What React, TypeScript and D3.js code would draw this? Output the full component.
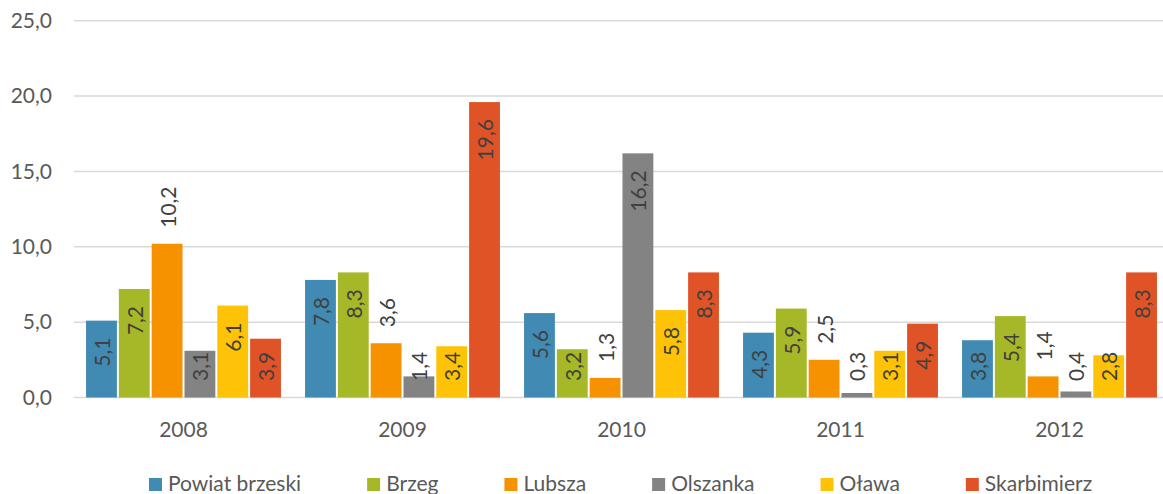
import React, { useEffect, useRef } from "react";
import { select, scaleBand, scaleLinear, range } from "d3";

const years = ["2008", "2009", "2010", "2011", "2012"];
const seriesNames = ["Powiat brzeski", "Brzeg", "Lubsza", "Olszanka", "Oława", "Skarbimierz"];
const powiatBrzeski = [5.1, 7.8, 5.6, 4.3, 3.8];
const brzeg = [7.2, 8.3, 3.2, 5.9, 5.4];
const lubsza = [10.2, 3.6, 1.3, 2.5, 1.4];
const olszanka = [3.1, 1.4, 16.2, 0.3, 0.4];
const olawa = [6.1, 3.4, 5.8, 3.1, 2.8];
const skarbimierz = [3.9, 19.6, 8.3, 4.9, 8.3];
const yTicks = [0, 5, 10, 15, 20, 25];

const COLORS = ["#418AB3", "#A6B727", "#F69200", "#838383", "#FEC306", "#DF5327"];
// Lubsza labels sit above the bars, every other series inside the bar end
const LABEL_OUTSIDE = ["Lubsza"];

const fmt = (v: number) => v.toFixed(1).replace(".", ",");

function App() {
  const svgRef = useRef<SVGSVGElement>(null);

  useEffect(() => {
    const WIDTH = 1163;
    const HEIGHT = 494;
    const FONT = "Lato, 'Open Sans', sans-serif";
    const values = [powiatBrzeski, brzeg, lubsza, olszanka, olawa, skarbimierz];

    const svg = select(svgRef.current).attr("width", WIDTH).attr("height", HEIGHT);
    svg.selectAll("*").remove();

    const x0 = scaleBand().domain(years).range([74, 1169]).paddingInner(0.11).paddingOuter(0.055);
    const x1 = scaleBand().domain(seriesNames).range([0, x0.bandwidth()]).paddingInner(0.06);
    const y = scaleLinear().domain([0, 25]).range([397.5, 20.7]);

    // gridlines
    svg.append("g")
      .selectAll("line")
      .data(yTicks)
      .join("line")
      .attr("x1", 74)
      .attr("x2", WIDTH)
      .attr("y1", (d) => y(d))
      .attr("y2", (d) => y(d))
      .attr("stroke", "#d9d9d9")
      .attr("stroke-width", 1.5);

    svg.append("g")
      .selectAll("text")
      .data(yTicks)
      .join("text")
      .attr("x", 52)
      .attr("y", (d) => y(d))
      .attr("dy", "0.35em")
      .attr("text-anchor", "end")
      .attr("font-family", FONT)
      .attr("font-size", 21)
      .attr("fill", "#595959")
      .text((d) => fmt(d));

    svg.append("g")
      .selectAll("text")
      .data(years)
      .join("text")
      .attr("x", (d) => x0(d)! + x0.bandwidth() / 2)
      .attr("y", 437)
      .attr("text-anchor", "middle")
      .attr("font-family", FONT)
      .attr("font-size", 21)
      .attr("fill", "#595959")
      .text((d) => d);

    const cells = seriesNames.flatMap((name, si) =>
      years.map((year, yi) => ({ name, year, value: values[si][yi], color: COLORS[si] }))
    );

    svg.append("g")
      .selectAll("rect")
      .data(cells)
      .join("rect")
      .attr("x", (d) => x0(d.year)! + x1(d.name)!)
      .attr("y", (d) => y(d.value))
      .attr("width", x1.bandwidth())
      .attr("height", (d) => y(0) - y(d.value))
      .attr("fill", (d) => d.color);

    const labels = svg.append("g")
      .selectAll("text")
      .data(cells)
      .join("text")
      .attr("font-family", FONT)
      .attr("font-size", 21)
      .attr("fill", "#404040")
      .attr("dominant-baseline", "central")
      .text((d) => fmt(d.value));

    labels.each(function (d) {
      const node = this as SVGTextElement;
      const len = node.getComputedTextLength();
      const cx = x0(d.year)! + x1(d.name)! + x1.bandwidth() / 2;
      const top = y(d.value);
      let bottom;
      if (LABEL_OUTSIDE.includes(d.name)) {
        bottom = top - 16;
      } else {
        bottom = Math.min(top + 17 + len, 381);
      }
      select(node)
        .attr("text-anchor", "start")
        .attr("transform", `translate(${cx},${bottom}) rotate(-90)`);
    });

    // legend
    const legend = svg.append("g");
    let lx = 149;
    range(seriesNames.length).forEach((i) => {
      legend.append("rect")
        .attr("x", lx)
        .attr("y", 478)
        .attr("width", 13)
        .attr("height", 13)
        .attr("fill", COLORS[i]);
      const t = legend.append("text")
        .attr("x", lx + 19)
        .attr("y", 491)
        .attr("font-family", FONT)
        .attr("font-size", 21)
        .attr("fill", "#595959")
        .text(seriesNames[i]);
      lx += 19 + (t.node() as SVGTextElement).getComputedTextLength() + 66;
    });
  }, []);

  return (
    <svg ref={svgRef} style={{ position: "absolute", left: 0, top: 0, background: "#fff" }}></svg>
  );
}

export default App;
